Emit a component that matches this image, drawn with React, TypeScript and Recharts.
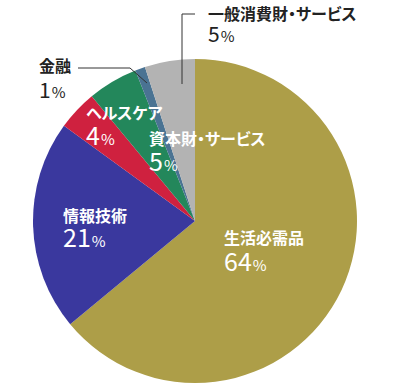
import { Cell, Pie, PieChart } from "recharts";

const CATEGORIES = [
  "生活必需品",
  "情報技術",
  "ヘルスケア",
  "資本財・サービス",
  "金融",
  "一般消費財・サービス",
];

const SHARES = [64, 21, 4, 5, 1, 5];

const COLORS = ["#ad9e48", "#3a389e", "#cf213f", "#23875b", "#4a7393", "#b3b3b3"];

// label layout per slice (x, baseline of name, baseline of number, inside?, leader)
const LABEL_LAYOUT = [
  { x: 224, nameY: 244, valueY: 271, inside: true, leader: null },
  { x: 63, nameY: 222, valueY: 247, inside: true, leader: null },
  { x: 86, nameY: 119, valueY: 145, inside: true, leader: null },
  { x: 149, nameY: 145, valueY: 171, inside: true, leader: null },
  { x: 39, nameY: 72, valueY: 98, inside: false, leader: "78,68 130,68 147,83" },
  { x: 208, nameY: 20, valueY: 42, inside: false, leader: "195,14 182,14 182,84" },
];

const data = CATEGORIES.map((name, i) => ({ name, value: SHARES[i] }));

const FONT = "'Noto Sans CJK JP', 'Noto Sans', sans-serif";

function renderLabel(props: any) {
  const i = props.index as number;
  const l = LABEL_LAYOUT[i];
  const fill = l.inside ? "#ffffff" : "#222222";
  return (
    <g key={`lbl-${i}`}>
      {l.leader ? (
        <polyline points={l.leader} fill="none" stroke="#333" strokeWidth={1} />
      ) : null}
      <text
        x={l.x}
        y={l.nameY}
        fill={fill}
        fontSize={16}
        fontWeight={600}
        fontFamily={FONT}
        style={{ fontFeatureSettings: '"palt"' }}
      >
        {CATEGORIES[i]}
      </text>
      <text x={l.x} y={l.valueY} fill={fill} fontFamily={FONT} fontWeight={400}>
        <tspan fontSize={l.inside ? 25 : 21}>{SHARES[i]}</tspan>
        <tspan fontSize={15} dx={1}>%</tspan>
      </text>
    </g>
  );
}

export default function App() {
  return (
    <div style={{ position: "absolute", left: 0, top: 0, width: 399, height: 391, background: "#fff" }}>
      <PieChart width={399} height={391} margin={{ top: 0, right: 0, bottom: 0, left: 0 }}>
        <Pie
          data={data}
          dataKey="value"
          nameKey="name"
          cx={195}
          cy={221}
          outerRadius={162}
          startAngle={90}
          endAngle={-270}
          stroke="none"
          label={renderLabel}
          labelLine={false}
          isAnimationActive={false}
        >
          {data.map((_, i) => (
            <Cell key={`cell-${i}`} fill={COLORS[i]} />
          ))}
        </Pie>
      </PieChart>
    </div>
  );
}
